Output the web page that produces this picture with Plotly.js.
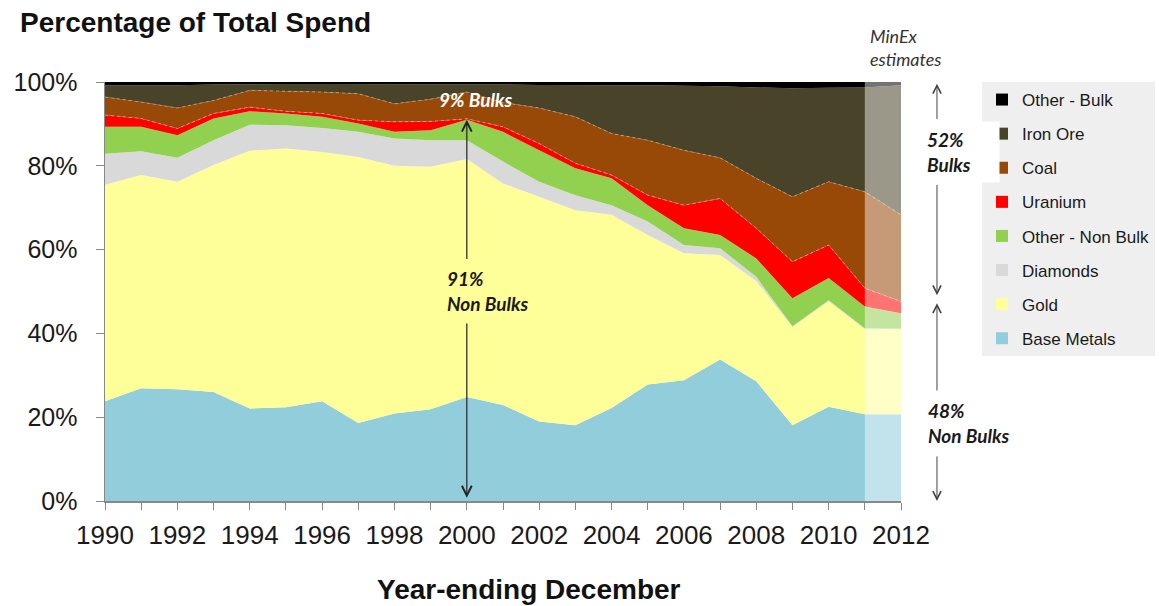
<!DOCTYPE html>
<html>
<head>
<meta charset="utf-8">
<script src="https://cdn.plot.ly/plotly-3.0.1.min.js"></script>
<style>
  html, body { margin: 0; padding: 0; background: #ffffff; }
  #chart { width: 1159px; height: 606px; }
</style>
</head>
<body>
<div id="chart"></div>
<script>
// ---- Data (share of total exploration spend, %) ----
const years = [1990, 1991, 1992, 1993, 1994, 1995, 1996, 1997, 1998, 1999, 2000, 2001,
               2002, 2003, 2004, 2005, 2006, 2007, 2008, 2009, 2010, 2011, 2012];
const baseMetals   = [23.8, 26.9, 26.7, 26.0, 22.1, 22.4, 23.8, 18.6, 20.9, 21.9, 24.8, 22.9,
                      19.0, 18.1, 22.2, 27.8, 28.8, 33.8, 28.6, 18.1, 22.5, 20.7, 20.7];
const gold         = [51.7, 50.9, 49.5, 54.2, 61.5, 61.7, 59.5, 63.5, 59.1, 57.9, 56.8, 52.9,
                      53.6, 51.3, 46.1, 35.7, 30.3, 24.9, 23.9, 23.4, 25.2, 20.3, 20.3];
const diamonds     = [7.4, 5.7, 5.7, 5.9, 6.2, 5.6, 5.7, 6.0, 6.5, 6.3, 4.5, 5.2,
                      3.6, 3.6, 2.3, 3.2, 2.0, 1.6, 1.0, 0.2, 0.2, 0.2, 0.1];
const otherNonBulk = [6.4, 5.8, 5.4, 5.2, 3.2, 2.8, 2.7, 2.0, 1.6, 2.4, 4.9, 7.1,
                      7.5, 6.4, 6.4, 3.9, 4.0, 3.2, 4.4, 6.7, 5.3, 5.2, 3.7];
const uranium      = [2.8, 2.0, 1.6, 1.2, 1.0, 0.5, 0.8, 0.8, 2.4, 2.1, 0.2, 1.2,
                      1.6, 1.2, 0.8, 2.4, 5.5, 8.7, 7.2, 8.7, 7.9, 4.4, 2.8];
const coal         = [4.3, 3.9, 4.9, 3.1, 4.0, 4.8, 5.1, 6.3, 4.3, 5.3, 6.4, 5.8,
                      8.5, 11.1, 9.9, 13.1, 13.1, 9.7, 11.9, 15.5, 15.1, 23.0, 20.7];
const ironOre      = [2.8, 4.0, 5.4, 3.8, 1.5, 1.7, 1.9, 2.3, 4.6, 3.6, 1.9, 4.3,
                      5.5, 7.5, 11.5, 13.1, 15.4, 17.1, 21.7, 25.9, 22.4, 24.9, 30.9];
const otherBulk    = [0.8, 0.8, 0.8, 0.6, 0.5, 0.5, 0.5, 0.5, 0.6, 0.5, 0.5, 0.6,
                      0.7, 0.8, 0.8, 0.8, 0.9, 1.0, 1.3, 1.5, 1.4, 1.3, 0.8];

const seriesNames  = ['Base Metals', 'Gold', 'Diamonds', 'Other - Non Bulk', 'Uranium', 'Coal', 'Iron Ore', 'Other - Bulk'];
const seriesValues = [baseMetals, gold, diamonds, otherNonBulk, uranium, coal, ironOre, otherBulk];
const yTickVals    = [0, 20, 40, 60, 80, 100];
const yTickText    = ['0%', '20%', '40%', '60%', '80%', '100%'];
const xTickVals    = [1990, 1992, 1994, 1996, 1998, 2000, 2002, 2004, 2006, 2008, 2010, 2012];
const estimateStart = 2011, estimateEnd = 2012;

// ---- Styles ----
const colors = ['#92cddc', '#ffff99', '#d9d9d9', '#92d050', '#ff0000', '#984807', '#494429', '#000000'];
const lineStyles = {
  'Uranium': {width: 0.8, color: 'rgba(255,170,170,0.9)', dash: 'dot'},
  'Coal':    {width: 0.8, color: 'rgba(230,170,120,0.9)', dash: 'dot'}
};
const FONT = '"Liberation Sans", Arial, sans-serif';
const IFONT = 'Lato, "Open Sans", sans-serif';

const traces = [];
seriesNames.forEach((name, i) => {
  traces.push({
    type: 'scatter', mode: 'lines', name: name,
    x: years, y: seriesValues[i],
    stackgroup: 'one', fillcolor: colors[i],
    line: lineStyles[name] || {width: 0, color: colors[i]},
    showlegend: false, hoverinfo: 'skip'
  });
});
// legend entries (square swatches), top of stack listed first
for (let i = seriesNames.length - 1; i >= 0; i--) {
  traces.push({
    type: 'scatter', mode: 'markers', name: seriesNames[i],
    x: [null], y: [null],
    marker: {symbol: 'square', size: 12, color: colors[i]},
    legendgroup: 'g' + i, showlegend: true, hoverinfo: 'skip'
  });
}

const arrowCol = '#222222';
const annotations = [
  // 2000 arrows
  {xref: 'x', yref: 'y', x: 2000, y: 91, axref: 'x', ayref: 'y', ax: 2000, ay: 57.4,
   showarrow: true, arrowhead: 5, arrowsize: 1.6, arrowwidth: 1.2, arrowcolor: arrowCol, text: ''},
  {xref: 'x', yref: 'y', x: 2000, y: 0.8, axref: 'x', ayref: 'y', ax: 2000, ay: 42.7,
   showarrow: true, arrowhead: 5, arrowsize: 1.6, arrowwidth: 1.2, arrowcolor: arrowCol, text: ''},
  {xref: 'x', yref: 'y', x: 1999.39, y: 50.1, xanchor: 'left', yanchor: 'middle', align: 'left',
   showarrow: false, text: '<b><i>91%<br>Non Bulks</i></b>',
   font: {family: IFONT, size: 19, color: '#1a1a1a'}},
  {xref: 'x', yref: 'y', x: 2000.25, y: 95.8, xanchor: 'center', yanchor: 'middle',
   showarrow: false, text: '<b><i>9% Bulks</i></b>',
   font: {family: IFONT, size: 19, color: '#ffffff'}},
  // right side arrows
  {xref: 'paper', yref: 'y', x: 1.0452, y: 99.6, axref: 'pixel', ayref: 'y', ax: 0, ay: 90.8,
   showarrow: true, arrowhead: 5, arrowsize: 1.6, arrowwidth: 1, arrowcolor: '#444', text: ''},
  {xref: 'paper', yref: 'y', x: 1.0452, y: 49.1, axref: 'pixel', ayref: 'y', ax: 0, ay: 75.8,
   showarrow: true, arrowhead: 5, arrowsize: 1.6, arrowwidth: 1, arrowcolor: '#444', text: ''},
  {xref: 'paper', yref: 'y', x: 1.0452, y: 47.2, axref: 'pixel', ayref: 'y', ax: 0, ay: 26.0,
   showarrow: true, arrowhead: 5, arrowsize: 1.6, arrowwidth: 1, arrowcolor: '#444', text: ''},
  {xref: 'paper', yref: 'y', x: 1.0452, y: 0, axref: 'pixel', ayref: 'y', ax: 0, ay: 11.0,
   showarrow: true, arrowhead: 5, arrowsize: 1.6, arrowwidth: 1, arrowcolor: '#444', text: ''},
  {xref: 'paper', yref: 'y', x: 1.0235, y: 83.3, xanchor: 'left', yanchor: 'middle', align: 'left',
   showarrow: false, text: '<b><i>52%<br>Bulks</i></b>', bgcolor: '#ffffff', borderpad: 6,
   width: 66, font: {family: IFONT, size: 19, color: '#1a1a1a'}},
  {xref: 'paper', yref: 'y', x: 1.032, y: 18.5, xanchor: 'left', yanchor: 'middle', align: 'left',
   showarrow: false, text: '<b><i>48%<br>Non Bulks</i></b>',
   font: {family: IFONT, size: 19, color: '#1a1a1a'}},
  // MinEx estimates
  {xref: 'x', yref: 'paper', x: 2011.08, y: 1.083, xanchor: 'left', yanchor: 'middle', align: 'left',
   showarrow: false, text: '<i>MinEx<br>estimates</i>',
   font: {family: IFONT, size: 18, color: '#333333'}},
  // x axis title
  {xref: 'paper', yref: 'paper', x: (529 - 105) / 796, y: -0.212, xanchor: 'center', yanchor: 'middle',
   showarrow: false, text: '<b>Year-ending December</b>',
   font: {family: FONT, size: 28, color: '#111111'}}
];

const layout = {
  width: 1159, height: 606,
  margin: {l: 105, r: 258, t: 82, b: 105, pad: 0},
  paper_bgcolor: '#ffffff', plot_bgcolor: '#ffffff',
  showlegend: true,
  title: {text: '<b>Percentage of Total Spend</b>', x: 20 / 1159, xanchor: 'left',
          y: 1 - 22 / 606, yanchor: 'middle',
          font: {family: FONT, size: 28, color: '#111111'}},
  xaxis: {
    range: [1990, 2012], autorange: false, fixedrange: true,
    tickvals: xTickVals, ticks: 'outside', ticklen: 7, tickcolor: '#888888', tickwidth: 1,
    minor: {dtick: 1, tick0: 1990, ticks: 'outside', ticklen: 7, tickcolor: '#888888', tickwidth: 1},
    showline: true, linecolor: '#888888', linewidth: 1.5, showgrid: false, zeroline: false,
    tickfont: {family: FONT, size: 26, color: '#1a1a1a'}, ticklabelstandoff: 3
  },
  yaxis: {
    range: [0, 100], autorange: false, fixedrange: true,
    tickvals: yTickVals, ticktext: yTickText, ticks: 'outside', ticklen: 8, tickcolor: '#888888',
    showline: true, linecolor: '#888888', linewidth: 1.5, showgrid: false, zeroline: false,
    tickfont: {family: FONT, size: 25, color: '#1a1a1a'}, ticklabelstandoff: 13
  },
  legend: {
    xref: 'container', yref: 'container',
    x: 982 / 1159, xanchor: 'left', y: 1 - 82 / 606, yanchor: 'top',
    bgcolor: '#efefef', borderwidth: 0, traceorder: 'grouped', tracegroupgap: 9,
    font: {family: FONT, size: 17, color: '#1a1a1a'}, itemwidth: 30
  },
  shapes: [
    {type: 'rect', xref: 'x', yref: 'y', x0: estimateStart, x1: estimateEnd, y0: 0, y1: 100,
     fillcolor: 'rgba(255,255,255,0.45)', line: {width: 0}, layer: 'above'}
  ],
  annotations: annotations
};

Plotly.newPlot('chart', traces, layout, {displayModeBar: false, staticPlot: true});
</script>
</body>
</html>
